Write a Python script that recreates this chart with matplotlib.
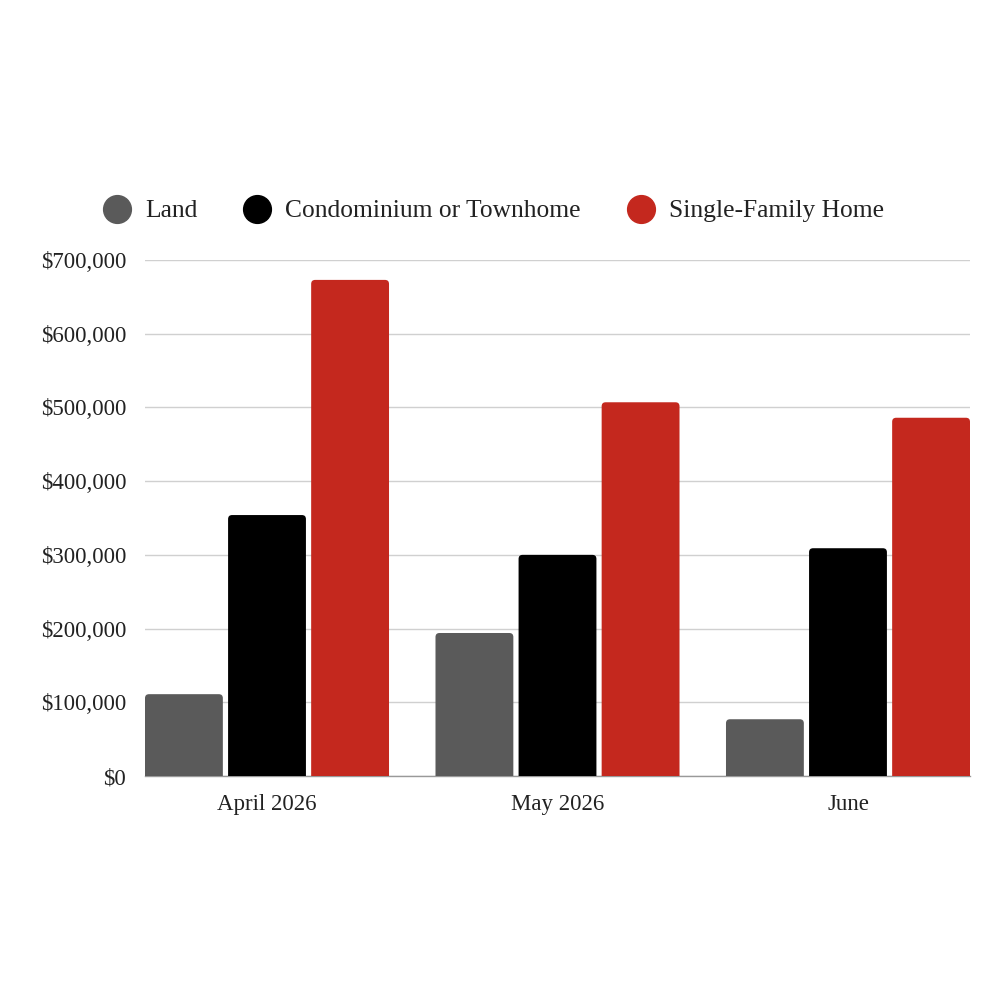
import matplotlib.pyplot as plt
from matplotlib.patches import FancyBboxPatch
from matplotlib.lines import Line2D
from matplotlib.ticker import FuncFormatter
import numpy as np

# values
months = ['April 2026', 'May 2026', 'June']
series = ['Land', 'Condominium or Townhome', 'Single-Family Home']
land = [111000, 194000, 77000]
condo = [354000, 300000, 309000]
single_family = [673000, 507000, 486000]
colors = ['#5a5a5a', '#000000', '#c4281e']

plt.rcParams['font.family'] = ['Liberation Serif', 'DejaVu Serif']

fig = plt.figure(figsize=(10, 10), dpi=100)
ax = fig.add_axes([0.145, 0.224, 0.825, 0.516])

x = np.arange(len(months))
width = 0.268
step = 0.286
ax.set_xlim(-0.42, 2.42)
ax.set_ylim(0, 700000)

# rounded top corners: draw each bar as a FancyBboxPatch scaled to the axes aspect
fig.canvas.draw()
bbox = ax.get_window_extent()
x_per_px = (2.42 + 0.42) / bbox.width
y_per_px = 700000 / bbox.height
aspect = y_per_px / x_per_px
radius = 4 * x_per_px

for i, (vals, c) in enumerate(zip([land, condo, single_family], colors)):
    xs = x + (i - 1) * step
    bars = ax.bar(xs, vals, width, color=c, alpha=0)
    for b in bars:
        p = FancyBboxPatch((b.get_x(), -20000), b.get_width(), b.get_height() + 20000,
                           boxstyle=f'round,pad=0,rounding_size={radius}',
                           mutation_aspect=aspect, facecolor=c, edgecolor='none',
                           zorder=3, clip_on=True)
        ax.add_patch(p)

ax.set_yticks(np.arange(0, 700001, 100000))
ax.yaxis.set_major_formatter(FuncFormatter(lambda v, pos: f'${v:,.0f}'))
ax.grid(axis='y', color='#d0d0d0', linewidth=1)
ax.set_axisbelow(True)
ax.set_xticks(x)
ax.set_xticklabels(months)
ax.tick_params(axis='both', length=0, labelsize=16.5, colors='#222222')
ax.tick_params(axis='x', pad=13)
ax.tick_params(axis='y', pad=13.5)
for s in ['top', 'right', 'left']:
    ax.spines[s].set_visible(False)
ax.spines['bottom'].set_color('#999999')
ax.spines['bottom'].set_linewidth(1)

handles = [Line2D([], [], marker='o', linestyle='none', markersize=20,
                  markerfacecolor=c, markeredgecolor=c) for c in colors]
fig.legend(handles, series, loc='center', bbox_to_anchor=(0.494, 0.789), ncol=3,
           frameon=False, fontsize=18.4, handlelength=1.0, handletextpad=0.6,
           columnspacing=1.85, labelcolor='#222222')

fig.savefig('out.png', dpi=100, facecolor='white')
